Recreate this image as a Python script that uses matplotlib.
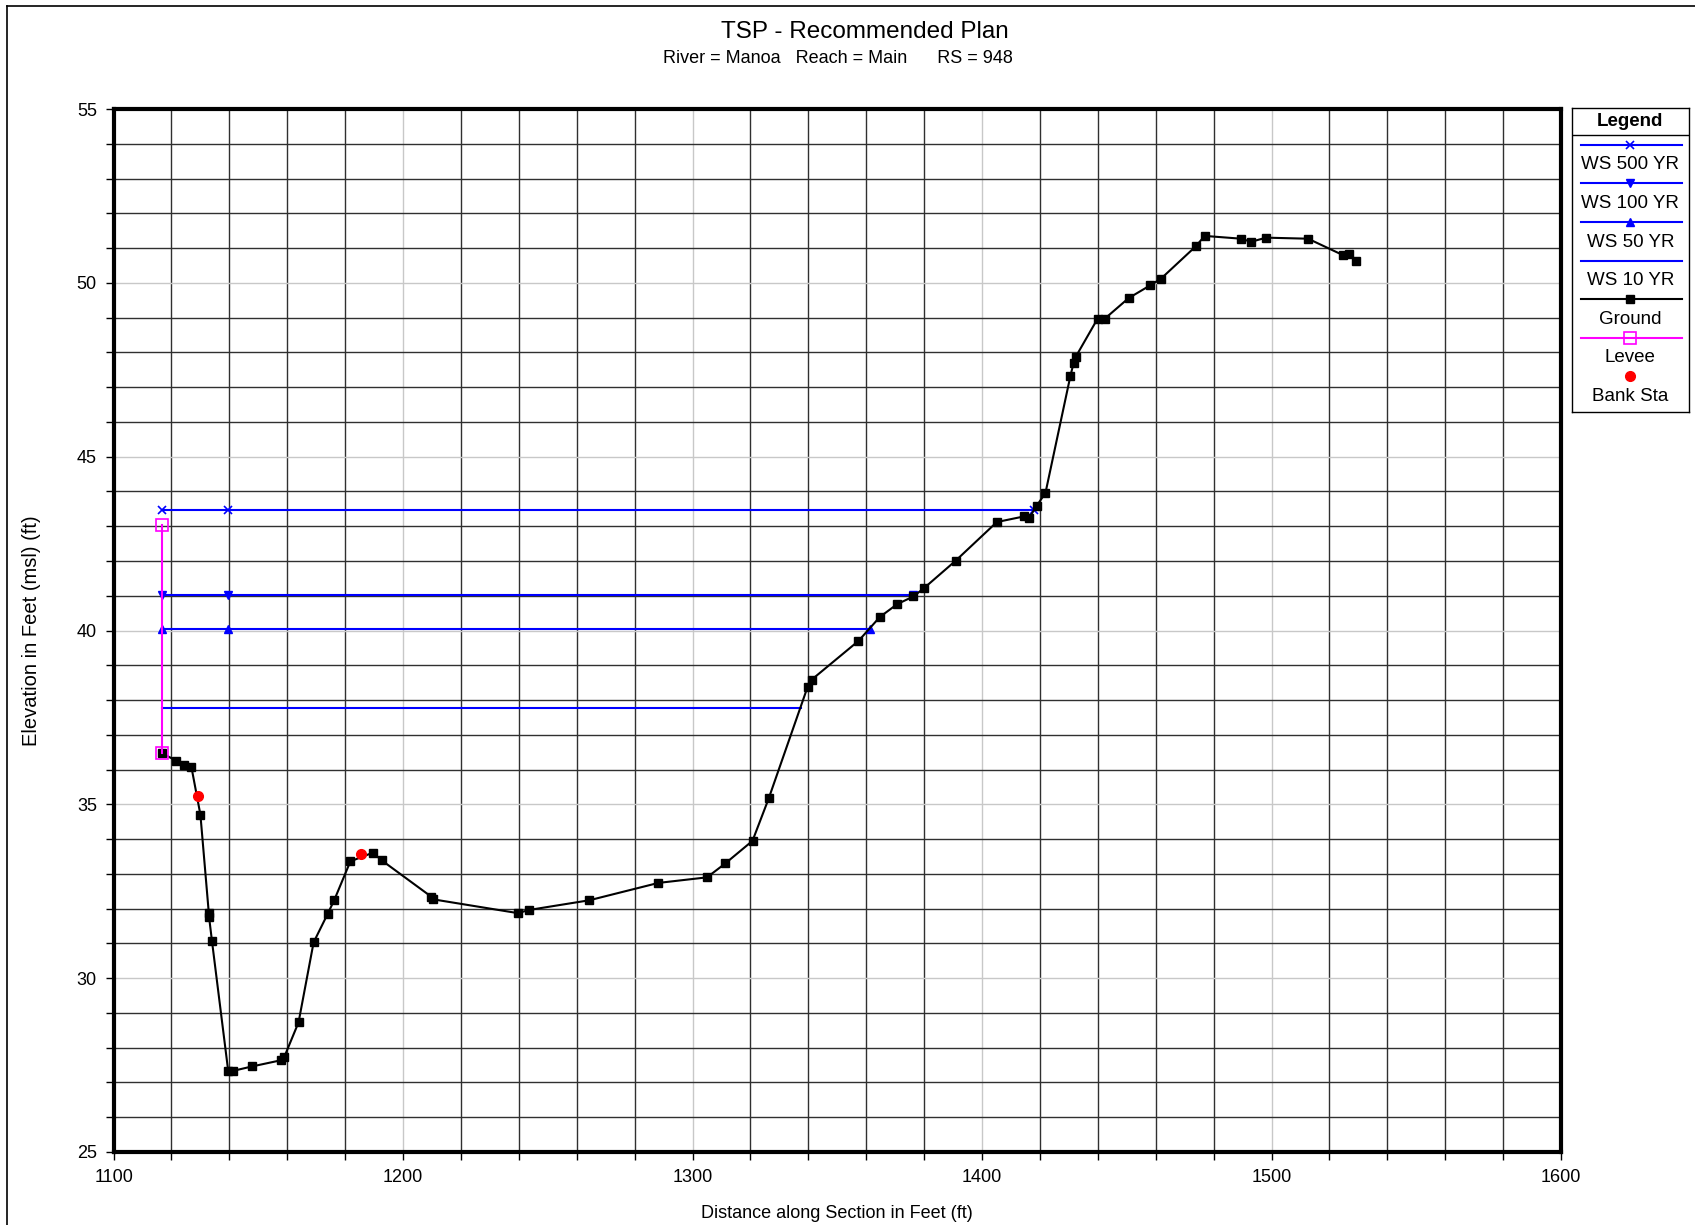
import matplotlib
matplotlib.use('Agg')
import matplotlib.pyplot as plt
from matplotlib.lines import Line2D
import numpy as np

plt.rcParams['font.family'] = ['Liberation Sans', 'DejaVu Sans']

# ground profile (station, elevation)
ground_x = [1116.8, 1121.7, 1124.3, 1126.9, 1130.0, 1132.9, 1133.0, 1134.0, 1139.6, 1141.1,
            1147.8, 1157.9, 1159.0, 1163.9, 1169.1, 1173.9, 1176.2, 1181.8, 1189.6, 1192.6,
            1209.8, 1210.2, 1239.7, 1243.4, 1264.3, 1288.2, 1305.0, 1311.3, 1320.7, 1326.3,
            1339.7, 1341.2, 1357.3, 1364.7, 1370.7, 1376.3, 1380.1, 1390.9, 1405.1, 1414.4,
            1416.3, 1418.9, 1421.9, 1430.5, 1431.6, 1432.4, 1439.9, 1442.4, 1450.6, 1458.1,
            1461.8, 1473.8, 1476.9, 1489.5, 1492.9, 1498.1, 1512.6, 1524.6, 1526.8, 1529.1]
ground_y = [36.47, 36.25, 36.13, 36.07, 34.70, 31.87, 31.75, 31.06, 27.33, 27.33,
            27.46, 27.64, 27.74, 28.73, 31.03, 31.84, 32.24, 33.36, 33.61, 33.39,
            32.34, 32.27, 31.87, 31.96, 32.24, 32.74, 32.90, 33.30, 33.95, 35.17,
            38.37, 38.59, 39.70, 40.39, 40.76, 40.98, 41.23, 42.01, 43.12, 43.28,
            43.25, 43.59, 43.96, 47.32, 47.69, 47.88, 48.97, 48.97, 49.56, 49.93,
            50.12, 51.05, 51.35, 51.27, 51.18, 51.30, 51.27, 50.80, 50.83, 50.62]

# water surfaces (left end, marker station, right end)
ws500_x = [1116.8, 1139.6, 1418.1]
ws500_y = [43.47, 43.47, 43.47]
ws100_x = [1116.8, 1139.6, 1376.3]
ws100_y = [41.01, 41.01, 41.01]
ws50_x = [1116.8, 1139.6, 1361.4]
ws50_y = [40.05, 40.05, 40.05]
ws10_x = [1116.8, 1337.5]
ws10_y = [37.78, 37.78]

levee_x = [1116.8, 1116.8]
levee_y = [36.47, 43.03]

bank_x = [1129.3, 1185.4]
bank_y = [35.24, 33.58]

fig = plt.figure(figsize=(16.95, 12.25), dpi=100)
ax = fig.add_axes([0.0670, 0.0596, 0.8540, 0.8514])

ax.set_xlim(1100, 1600)
ax.set_ylim(25, 55)

# grid
for gx in np.arange(1120, 1600, 20):
    c = '#c8c8c8' if gx % 100 == 0 else '#303030'
    ax.axvline(gx, color=c, lw=1.0, zorder=0)
for gy in np.arange(26, 55, 1):
    c = '#c8c8c8' if gy % 5 == 0 else '#303030'
    ax.axhline(gy, color=c, lw=1.0, zorder=0)

blue = '#0000ff'
ax.plot(ws500_x, ws500_y, color=blue, lw=1.5, marker='x', ms=6, mew=1.2, zorder=3)
ax.plot(ws100_x, ws100_y, color=blue, lw=1.5, marker='v', ms=6, zorder=3)
ax.plot(ws50_x, ws50_y, color=blue, lw=1.5, marker='^', ms=6, zorder=3)
ax.plot(ws10_x, ws10_y, color=blue, lw=1.5, zorder=3)
ax.plot(ground_x, ground_y, color='black', lw=1.5, marker='s', ms=6, zorder=4)
ax.plot(levee_x, levee_y, color='#ff00ff', lw=1.5, marker='s', ms=9, mfc='none', mew=1.2, zorder=5)
ax.plot(bank_x, bank_y, 'o', color='#ff0000', ms=7, zorder=6)

ax.set_xticks(np.arange(1100, 1601, 100))
ax.set_xticks(np.arange(1100, 1601, 20), minor=True)
ax.set_yticks(np.arange(25, 56, 5))
ax.set_yticks(np.arange(25, 56, 1), minor=True)
ax.tick_params(which='both', direction='out', length=6, width=1, labelsize=13, pad=6)
ax.tick_params(which='minor', labelbottom=False, labelleft=False)
for s in ax.spines.values():
    s.set_linewidth(3)

ax.set_xlabel('Distance along Section in Feet (ft)', fontsize=13, labelpad=14)
ax.set_ylabel('Elevation in Feet (msl) (ft)', fontsize=14.5, labelpad=26)

fig.text(0.51, 0.9736, 'TSP - Recommended Plan', ha='center', va='center', fontsize=17.5)
fig.text(0.4945, 0.952, 'River = Manoa   Reach = Main      RS = 948', ha='center', va='center', fontsize=13)

# figure border (left and top)
fig.add_artist(Line2D([0.0041, 0.0041], [0, 0.9951], color='black', lw=1.2, transform=fig.transFigure))
fig.add_artist(Line2D([0.0041, 1.0], [0.9951, 0.9951], color='black', lw=1.2, transform=fig.transFigure))

# legend box
lg = fig.add_axes([0.9274, 0.6637, 0.0690, 0.2481])
lg.set_xlim(0, 1)
lg.set_ylim(0, 1)
lg.set_xticks([])
lg.set_yticks([])
for s in lg.spines.values():
    s.set_linewidth(1.0)
lg.text(0.5, 0.955, 'Legend', ha='center', va='center', fontsize=13.5, fontweight='bold')
lg.axhline(0.911, color='black', lw=1.0)

entries = [
    ('WS 500 YR', dict(color=blue, marker='x', ms=6, mew=1.2)),
    ('WS 100 YR', dict(color=blue, marker='v', ms=6)),
    ('WS 50 YR', dict(color=blue, marker='^', ms=6)),
    ('WS 10 YR', dict(color=blue)),
    ('Ground', dict(color='black', marker='s', ms=6)),
    ('Levee', dict(color='#ff00ff', marker='s', ms=9, mfc='none', mew=1.2)),
]
y0 = 0.879
step = 0.127
for i, (lab, kw) in enumerate(entries):
    yl = y0 - i * step
    lg.plot([0.074, 0.5, 0.944], [yl, yl, yl], lw=1.5, markevery=[1], **kw)
    lg.text(0.5, yl - 0.066, lab, ha='center', va='center', fontsize=13.5)
yl = y0 - 6 * step
lg.plot([0.5], [yl], 'o', color='#ff0000', ms=7)
lg.text(0.5, yl - 0.066, 'Bank Sta', ha='center', va='center', fontsize=13.5)

fig.savefig('out.png', dpi=100)
